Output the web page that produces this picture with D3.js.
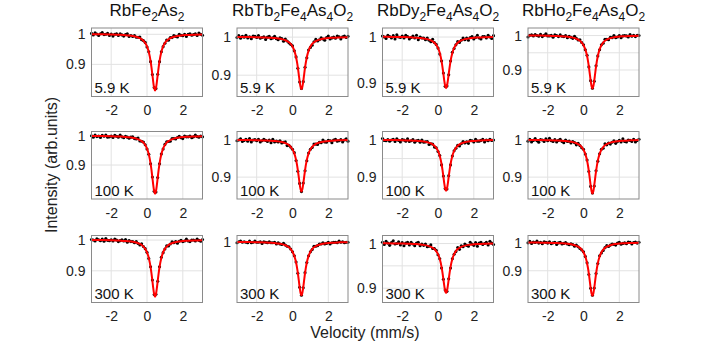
<!DOCTYPE html>
<html><head><meta charset="utf-8">
<script src="https://cdn.jsdelivr.net/npm/d3@7"></script>
<style>body{margin:0;background:#fff}svg{display:block}</style>
</head><body>
<script>
// ---------- DATA ----------
const compounds = ["RbFe_2As_2", "RbTb_2Fe_4As_4O_2", "RbDy_2Fe_4As_4O_2", "RbHo_2Fe_4As_4O_2"];
const temperatures = ["5.9 K", "100 K", "300 K"];
const xTicks = [-2, 0, 2];
const xLimits = [-3.1, 3.1];

const velocity = [-3.1,-3.0,-2.9,-2.8,-2.7,-2.6,-2.5,-2.4,-2.3,-2.2,-2.1,-2.0,-1.9,-1.8,-1.7,-1.6,-1.5,-1.4,-1.3,-1.2,-1.1,-1.0,-0.9,-0.8,-0.7,-0.6,-0.5,-0.4,-0.3,-0.2,-0.1,0.0,0.1,0.2,0.3,0.4,0.5,0.6,0.7,0.8,0.9,1.0,1.1,1.2,1.3,1.4,1.5,1.6,1.7,1.8,1.9,2.0,2.1,2.2,2.3,2.4,2.5,2.6,2.7,2.8,2.9,3.0,3.1];
const fitVelocity = [-3.1,-2.5,-2.0,-1.5,-1.2,-1.0,-0.8,-0.6,-0.4,-0.3,-0.2,-0.1,0.0,0.1,0.2,0.25,0.3,0.35,0.4,0.45,0.5,0.55,0.6,0.65,0.7,0.8,0.9,1.0,1.1,1.2,1.3,1.5,1.7,1.9,2.2,2.6,3.1];

// measured intensities (row: temperature, column: compound)
const data_Fe_5K = [1.003,0.998,1.005,1.001,0.996,1.002,1.006,0.999,1.000,1.003,
 0.996,1.001,0.994,1.000,1.002,0.996,1.002,0.998,0.994,0.999,
 1.002,0.993,0.996,0.993,0.996,0.990,0.990,0.991,0.982,0.979,
 0.973,0.958,0.942,0.909,0.866,0.823,0.820,0.867,0.909,0.942,
 0.959,0.970,0.981,0.980,0.989,0.989,0.996,0.993,0.991,1.000,
 0.997,0.995,1.000,0.993,1.000,1.002,0.997,0.999,1.002,0.996,
 1.004,1.000,0.997];
const data_Tb_5K = [0.999,1.004,0.997,1.002,1.000,1.005,0.998,1.001,0.996,1.003,
 1.002,0.999,1.004,0.997,0.999,1.001,0.994,1.000,1.002,0.996,
 0.998,1.002,0.996,0.993,0.998,0.996,0.989,0.995,0.990,0.985,
 0.981,0.977,0.964,0.948,0.918,0.882,0.865,0.883,0.921,0.946,
 0.966,0.973,0.979,0.988,0.994,0.990,0.993,0.998,0.995,0.992,
 0.999,1.003,0.995,0.998,1.000,0.997,1.003,1.001,0.995,1.001,
 1.003,0.999,1.002];
const data_Dy_5K = [1.002,1.000,0.997,1.004,1.001,0.998,1.003,0.996,1.005,1.000,
 0.999,1.002,0.998,1.004,1.001,0.996,0.999,1.002,0.998,1.004,
 0.994,1.000,0.998,0.998,0.994,0.998,0.993,0.990,0.995,0.988,
 0.984,0.976,0.963,0.948,0.922,0.893,0.894,0.918,0.948,0.967,
 0.975,0.983,0.990,0.988,0.993,0.998,0.994,0.998,0.993,0.999,
 1.001,0.996,0.999,1.004,0.998,0.996,1.001,1.001,0.998,1.004,
 1.000,0.997,1.003];
const data_Ho_5K = [0.996,1.001,1.002,0.999,1.003,1.000,0.998,1.004,0.997,1.001,
 1.005,0.999,0.999,1.001,0.995,1.002,1.000,0.997,1.002,0.998,
 0.997,1.000,0.994,0.998,0.995,0.992,0.998,0.992,0.987,0.988,
 0.980,0.973,0.959,0.943,0.909,0.869,0.847,0.867,0.912,0.941,
 0.959,0.973,0.978,0.989,0.989,0.988,0.995,0.994,1.000,0.994,
 0.996,1.000,0.994,0.999,1.000,0.999,0.996,1.003,0.998,1.001,
 0.997,1.001,1.000];
const data_Fe_100K = [1.001,0.996,1.003,0.998,1.000,0.995,1.002,0.999,1.003,0.996,
 0.997,1.000,0.995,1.002,0.999,0.996,1.003,0.997,0.994,0.999,
 0.996,0.992,0.996,0.997,0.991,0.990,0.993,0.983,0.982,0.979,
 0.970,0.955,0.937,0.904,0.859,0.810,0.807,0.857,0.904,0.938,
 0.955,0.971,0.980,0.981,0.982,0.991,0.991,0.990,0.995,0.999,
 0.994,0.991,1.000,0.997,0.997,1.000,0.994,0.997,1.003,0.998,
 0.996,1.000,0.997];
const data_Tb_100K = [0.998,1.000,1.003,0.996,0.999,1.002,0.997,1.004,0.995,1.000,
 1.001,0.998,1.002,0.995,0.998,1.002,0.999,0.996,1.000,0.993,
 1.002,0.995,0.997,0.995,0.998,0.992,0.994,0.995,0.985,0.986,
 0.981,0.975,0.966,0.945,0.916,0.883,0.861,0.884,0.917,0.944,
 0.965,0.975,0.980,0.989,0.989,0.988,0.994,0.993,1.000,0.995,
 0.994,0.999,0.998,0.993,1.000,1.002,0.997,0.998,1.001,0.995,
 1.000,1.003,0.997];
const data_Dy_100K = [1.004,0.999,0.998,1.001,0.997,1.000,1.002,0.996,1.003,0.999,
 0.995,1.001,1.000,0.997,1.003,0.996,0.998,1.001,0.994,0.998,
 0.999,0.994,1.000,0.994,0.995,0.996,0.988,0.990,0.989,0.981,
 0.979,0.969,0.958,0.933,0.903,0.869,0.868,0.904,0.933,0.957,
 0.971,0.978,0.986,0.984,0.990,0.996,0.992,0.995,0.991,0.999,
 0.998,0.995,1.002,0.997,0.997,0.999,1.002,0.995,1.000,0.998,
 1.002,0.999,1.000];
const data_Ho_100K = [0.997,1.002,0.995,0.999,1.004,0.998,0.994,1.001,1.000,0.996,
 1.003,0.998,1.005,0.998,0.996,1.001,0.995,0.999,1.002,0.996,
 0.993,1.000,0.996,0.997,0.992,0.996,0.993,0.987,0.991,0.985,
 0.979,0.975,0.962,0.946,0.915,0.875,0.857,0.876,0.917,0.943,
 0.963,0.975,0.978,0.990,0.987,0.992,0.989,0.994,0.998,0.991,
 0.996,0.999,0.995,1.003,0.996,0.995,1.000,0.999,0.996,1.002,
 0.995,0.999,1.002];
const data_Fe_300K = [1.002,1.000,0.997,1.004,1.001,0.998,1.003,0.996,1.005,0.999,
 0.998,1.001,0.997,1.003,1.000,0.995,0.998,1.001,0.997,1.002,
 0.993,0.998,0.995,0.995,0.991,0.995,0.989,0.984,0.988,0.979,
 0.972,0.960,0.940,0.913,0.870,0.823,0.824,0.866,0.913,0.944,
 0.959,0.971,0.981,0.981,0.987,0.994,0.991,0.995,0.990,0.996,
 0.999,0.995,0.997,1.003,0.997,0.995,1.000,1.000,0.997,1.003,
 0.999,0.996,1.002];
const data_Tb_300K = [0.999,1.001,1.002,1.000,1.001,1.000,0.999,1.002,0.999,1.000,
 1.002,1.000,1.000,1.001,0.998,1.001,1.000,0.999,1.001,0.999,
 0.999,1.000,0.997,0.999,0.997,0.996,0.998,0.995,0.993,0.992,
 0.988,0.983,0.976,0.965,0.945,0.920,0.906,0.919,0.946,0.964,
 0.976,0.983,0.987,0.993,0.993,0.994,0.997,0.997,0.999,0.997,
 0.998,1.000,0.997,0.999,1.000,1.000,0.999,1.002,1.000,1.001,
 0.999,1.000,1.000];
const data_Dy_300K = [1.003,0.998,1.005,1.001,0.996,1.002,1.006,0.999,1.000,1.004,
 0.997,1.002,0.995,1.001,1.003,0.997,1.003,0.999,0.995,1.001,
 1.003,0.995,0.999,0.996,0.999,0.993,0.994,0.997,0.989,0.989,
 0.985,0.975,0.966,0.945,0.920,0.896,0.893,0.921,0.945,0.966,
 0.976,0.982,0.991,0.987,0.995,0.993,0.999,0.996,0.994,1.003,
 0.999,0.996,1.002,0.994,1.001,1.003,0.998,1.000,1.003,0.997,
 1.005,1.001,0.998];
const data_Ho_300K = [0.999,1.004,0.997,1.002,1.000,1.005,0.998,1.001,0.996,1.003,
 1.001,0.998,1.003,0.996,0.999,1.001,0.993,0.999,1.001,0.995,
 0.997,1.000,0.995,0.992,0.996,0.993,0.987,0.991,0.985,0.979,
 0.974,0.967,0.951,0.928,0.887,0.838,0.813,0.839,0.890,0.926,
 0.953,0.963,0.972,0.982,0.989,0.986,0.991,0.995,0.993,0.991,
 0.998,1.001,0.994,0.997,0.999,0.996,1.002,1.001,0.995,1.000,
 1.002,0.998,1.001];

// fitted curves (sampled at fitVelocity)
const fit_Fe_5K = [1.000,0.9998,0.9992,0.9982,0.9971,0.9960,0.9943,0.9917,0.9871,0.9835,0.9784,0.9709,0.9595,0.9408,0.9108,0.8901,0.8658,0.8408,0.8209,0.813,0.8209,0.8408,0.8658,0.8901,0.9108,0.9408,0.9595,0.9709,0.9784,0.9835,0.9871,0.9917,0.9943,0.9960,0.9975,0.9987,0.9995];
const fit_Tb_5K = [1.0004,1.0001,0.9997,0.9990,0.9983,0.9976,0.9964,0.9947,0.9918,0.9896,0.9865,0.9820,0.9752,0.9644,0.9472,0.9348,0.9196,0.9018,0.8834,0.8688,0.863,0.8688,0.8834,0.9018,0.9196,0.9472,0.9644,0.9752,0.9820,0.9865,0.9896,0.9935,0.9957,0.9971,0.9983,0.9992,0.9998];
const fit_Dy_5K = [1.0005,1.0003,0.9999,0.9993,0.9987,0.9980,0.9970,0.9954,0.9927,0.9906,0.9876,0.9831,0.9763,0.9652,0.9472,0.9349,0.9205,0.9056,0.8937,0.889,0.8937,0.9056,0.9205,0.9349,0.9472,0.9652,0.9763,0.9831,0.9876,0.9906,0.9927,0.9954,0.9970,0.9980,0.9989,0.9996,1.0001];
const fit_Ho_5K = [1.0003,1.0000,0.9996,0.9988,0.9980,0.9971,0.9959,0.9940,0.9907,0.9882,0.9847,0.9796,0.9720,0.9599,0.9406,0.9266,0.9096,0.8896,0.8689,0.8525,0.846,0.8525,0.8689,0.8896,0.9096,0.9406,0.9599,0.9720,0.9796,0.9847,0.9882,0.9926,0.9950,0.9966,0.9980,0.9990,0.9997];
const fit_Fe_100K = [1.0001,0.9997,0.9991,0.9980,0.9969,0.9957,0.9939,0.9911,0.9862,0.9824,0.9770,0.9690,0.9568,0.9370,0.9050,0.8830,0.8572,0.8306,0.8094,0.801,0.8094,0.8306,0.8572,0.8830,0.9050,0.9370,0.9568,0.9690,0.9770,0.9824,0.9862,0.9911,0.9939,0.9957,0.9973,0.9985,0.9994];
const fit_Tb_100K = [1.0004,1.0001,0.9997,0.9990,0.9983,0.9975,0.9964,0.9946,0.9917,0.9894,0.9863,0.9817,0.9748,0.9639,0.9464,0.9338,0.9184,0.9003,0.8817,0.8669,0.861,0.8669,0.8817,0.9003,0.9184,0.9464,0.9639,0.9748,0.9817,0.9863,0.9894,0.9934,0.9956,0.9970,0.9983,0.9992,0.9998];
const fit_Dy_100K = [1.0004,1.0001,0.9997,0.9989,0.9981,0.9973,0.9961,0.9941,0.9908,0.9882,0.9844,0.9789,0.9705,0.9568,0.9348,0.9196,0.9018,0.8834,0.8688,0.863,0.8688,0.8834,0.9018,0.9196,0.9348,0.9568,0.9705,0.9789,0.9844,0.9882,0.9908,0.9941,0.9961,0.9973,0.9984,0.9993,0.9999];
const fit_Ho_100K = [1.0004,1.0001,0.9997,0.9989,0.9982,0.9974,0.9962,0.9944,0.9914,0.9890,0.9858,0.9810,0.9739,0.9626,0.9445,0.9314,0.9155,0.8967,0.8775,0.8621,0.856,0.8621,0.8775,0.8967,0.9155,0.9445,0.9626,0.9739,0.9810,0.9858,0.9890,0.9931,0.9954,0.9969,0.9982,0.9991,0.9998];
const fit_Fe_300K = [1.0002,0.9998,0.9992,0.9982,0.9972,0.9961,0.9944,0.9918,0.9873,0.9838,0.9788,0.9714,0.9601,0.9418,0.9122,0.8918,0.8680,0.8434,0.8238,0.816,0.8238,0.8434,0.8680,0.8918,0.9122,0.9418,0.9601,0.9714,0.9788,0.9838,0.9873,0.9918,0.9944,0.9961,0.9976,0.9987,0.9995];
const fit_Tb_300K = [1.0006,1.0004,1.0001,0.9997,0.9992,0.9986,0.9979,0.9967,0.9947,0.9932,0.9910,0.9879,0.9832,0.9758,0.9640,0.9554,0.9450,0.9327,0.9201,0.9100,0.906,0.9100,0.9201,0.9327,0.9450,0.9640,0.9758,0.9832,0.9879,0.9910,0.9932,0.9958,0.9973,0.9983,0.9992,0.9998,1.0002];
const fit_Dy_300K = [1.0005,1.0003,0.9999,0.9993,0.9987,0.9980,0.9970,0.9954,0.9927,0.9906,0.9876,0.9831,0.9763,0.9652,0.9472,0.9349,0.9205,0.9056,0.8937,0.889,0.8937,0.9056,0.9205,0.9349,0.9472,0.9652,0.9763,0.9831,0.9876,0.9906,0.9927,0.9954,0.9970,0.9980,0.9989,0.9996,1.0001];
const fit_Ho_300K = [1.0002,0.9998,0.9993,0.9983,0.9973,0.9963,0.9947,0.9924,0.9884,0.9853,0.9811,0.9748,0.9655,0.9507,0.9269,0.9098,0.8889,0.8644,0.8391,0.8190,0.811,0.8190,0.8391,0.8644,0.8889,0.9269,0.9507,0.9655,0.9748,0.9811,0.9853,0.9906,0.9937,0.9956,0.9973,0.9985,0.9994];

// axis limits and ticks per panel [row][col]
const yLimits = [
  [[0.793,1.021],[0.844,1.024],[0.871,1.0196],[0.823,1.022]],
  [[0.783,1.0155],[0.841,1.023],[0.841,1.023],[0.841,1.023]],
  [[0.797,1.0148],[0.893,1.012],[0.868,1.018],[0.7875,1.025]]
];
const yTickLabels = [
  [[0.9,1],[0.9,1],[0.9,1],[0.9,1]],
  [[0.9,1],[0.9,1],[0.9,1],[0.9,1]],
  [[0.9,1],[1],[0.9,1],[0.9,1]]
];
const yGridLines = [
  [[0.9,1],[0.9,1],[0.9,0.95,1],[0.9,0.95,1]],
  [[0.9,1],[0.9,1],[0.9,0.95,1],[0.9,1]],
  [[0.9,1],[1],[0.9,0.95,1],[0.9,1]]
];

const measured = [
  [data_Fe_5K, data_Tb_5K, data_Dy_5K, data_Ho_5K],
  [data_Fe_100K, data_Tb_100K, data_Dy_100K, data_Ho_100K],
  [data_Fe_300K, data_Tb_300K, data_Dy_300K, data_Ho_300K]
];
const fitted = [
  [fit_Fe_5K, fit_Tb_5K, fit_Dy_5K, fit_Ho_5K],
  [fit_Fe_100K, fit_Tb_100K, fit_Dy_100K, fit_Ho_100K],
  [fit_Fe_300K, fit_Tb_300K, fit_Dy_300K, fit_Ho_300K]
];

// ---------- LAYOUT ----------
const W = 706, H = 344;
const FONT = "'Liberation Sans', Arial, Helvetica, sans-serif";
const colLeft = [91.5, 237, 382.5, 528];
const panelW = 111;
const rowTop = [28, 131.5, 235.5];
const panelH = [68.5, 67.5, 67];

const svg = d3.select("body").append("svg").attr("width", W).attr("height", H)
  .style("font-family", FONT);

// titles
compounds.forEach((name, c) => {
  const t = svg.append("text")
    .attr("x", colLeft[c] + panelW / 2).attr("y", 16)
    .attr("text-anchor", "middle").attr("fill", "#111").style("font-size", "17px");
  const parts = name.split(/(_\d)/).filter(s => s.length);
  let sub = false;
  parts.forEach(p => {
    if (p.startsWith("_")) {
      t.append("tspan").attr("dy", sub ? 0 : 4.5).style("font-size", "12px").text(p.slice(1));
      sub = true;
    } else {
      t.append("tspan").attr("dy", sub ? -4.5 : 0).text(p);
      sub = false;
    }
  });
});

for (let r = 0; r < 3; r++) {
  for (let c = 0; c < 4; c++) {
    const x0 = colLeft[c], y0 = rowTop[r], h = panelH[r];
    const x = d3.scaleLinear().domain(xLimits).range([x0, x0 + panelW]);
    const y = d3.scaleLinear().domain(yLimits[r][c]).range([y0 + h, y0]);
    const g = svg.append("g");

    g.append("rect").attr("x", x0).attr("y", y0).attr("width", panelW).attr("height", h).attr("fill", "#fff");

    // grid
    g.selectAll(".vg").data(xTicks).join("line").attr("class", "vg")
      .attr("x1", d => x(d)).attr("x2", d => x(d)).attr("y1", y0).attr("y2", y0 + h)
      .attr("stroke", "#e2e2e2").attr("stroke-width", 1);
    g.selectAll(".hg").data(yGridLines[r][c]).join("line").attr("class", "hg")
      .attr("x1", x0).attr("x2", x0 + panelW).attr("y1", d => y(d)).attr("y2", d => y(d))
      .attr("stroke", "#e2e2e2").attr("stroke-width", 1);

    // measured points
    const pts = velocity.map((v, i) => [v, measured[r][c][i]]);
    g.selectAll(".pt").data(pts).join("circle").attr("class", "pt")
      .attr("cx", d => x(d[0])).attr("cy", d => y(d[1])).attr("r", 1.55).attr("fill", "#000");

    // fitted curve
    const fpts = fitVelocity.map((v, i) => [v, fitted[r][c][i]]);
    g.append("path").datum(fpts)
      .attr("d", d3.line().x(d => x(d[0])).y(d => y(d[1])).curve(d3.curveMonotoneX))
      .attr("fill", "none").attr("stroke", "#ff0000").attr("stroke-width", 2);

    // frame
    g.append("rect").attr("x", x0).attr("y", y0).attr("width", panelW).attr("height", h)
      .attr("fill", "none").attr("stroke", "#8a8a8a").attr("stroke-width", 1);

    // axes
    const ax = g.append("g").attr("transform", `translate(0,${y0 + h})`)
      .call(d3.axisBottom(x).tickValues(xTicks).tickSize(0).tickPadding(9).tickFormat(d => String(d)));
    ax.select(".domain").remove();
    ax.selectAll("text").style("font-size", "14px").style("font-family", FONT).attr("fill", "#222");

    const ay = g.append("g").attr("transform", `translate(${x0},0)`)
      .call(d3.axisLeft(y).tickValues(yTickLabels[r][c]).tickSize(0).tickPadding(6).tickFormat(d => String(d)));
    ay.select(".domain").remove();
    ay.selectAll("text").style("font-size", "14px").style("font-family", FONT).attr("fill", "#222");

    // temperature label
    g.append("text").attr("x", x0 + 3).attr("y", y0 + h - 3.5)
      .style("font-size", "15px").attr("fill", "#111").text(temperatures[r]);
  }
}

// axis titles
svg.append("text").attr("transform", "translate(57,165) rotate(-90)")
  .attr("text-anchor", "middle").style("font-size", "16px").attr("fill", "#222")
  .text("Intensity (arb.units)");
svg.append("text").attr("x", 365).attr("y", 338)
  .attr("text-anchor", "middle").style("font-size", "16px").attr("fill", "#222")
  .text("Velocity (mm/s)");
</script>
</body></html>
